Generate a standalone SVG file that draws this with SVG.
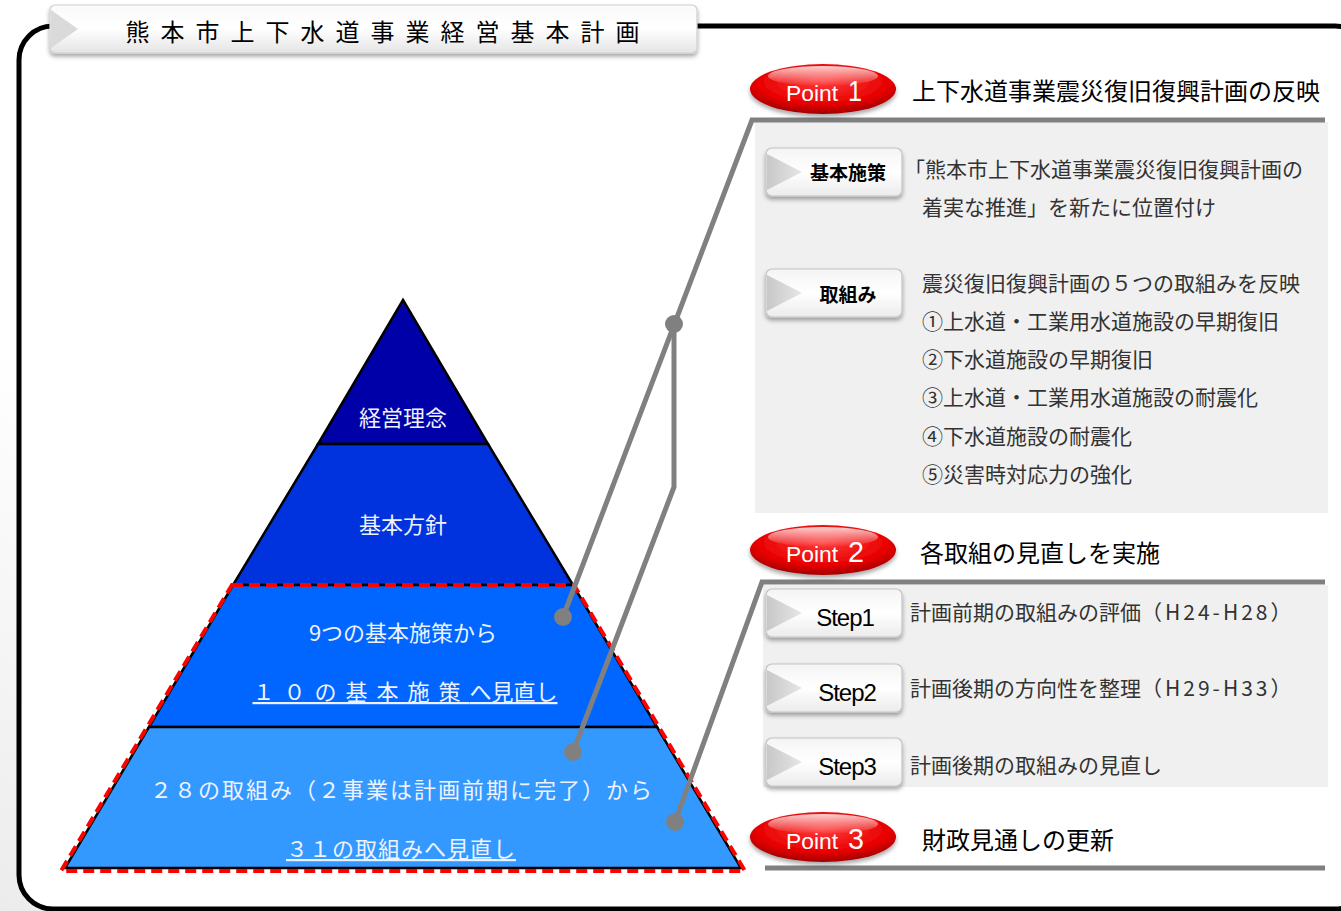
<svg xmlns="http://www.w3.org/2000/svg" width="1341" height="911" viewBox="0 0 1341 911">
<style>
.jp{font-family:"Noto Sans CJK JP","Noto Sans CJK SC",sans-serif}
.tier{stroke:#000;stroke-width:2.5}
.tt{fill:#eef2ff;font-size:22px;text-anchor:middle}
.head{fill:#000;font-size:24px}
.body{fill:#333;font-size:21px}
.btn{fill:url(#btnG);stroke:#c4c4c4;stroke-width:1.2}
.btntri{fill:url(#triG)}
.btnt{fill:#000;font-size:19px;font-weight:bold;text-anchor:middle}
.stept{fill:#000;font-size:24px;font-family:"Liberation Sans",Arial,sans-serif;text-anchor:middle;letter-spacing:-1px}
.conn{stroke:#808080;stroke-width:5;fill:none}
.dot{fill:#808080}
.pt{fill:#fff;font-family:"Liberation Sans",Arial,sans-serif}
</style>
<defs>
<linearGradient id="btnG" x1="0" y1="0" x2="0" y2="1">
<stop offset="0" stop-color="#f4f4f4"/><stop offset="0.5" stop-color="#ffffff"/><stop offset="1" stop-color="#ebebeb"/>
</linearGradient>
<linearGradient id="triG" x1="0" y1="0" x2="1" y2="0">
<stop offset="0" stop-color="#c8c8c8"/><stop offset="1" stop-color="#e6e6e6"/>
</linearGradient>
<linearGradient id="titleG" x1="0" y1="0" x2="0" y2="1">
<stop offset="0" stop-color="#fafafa"/><stop offset="0.5" stop-color="#ffffff"/><stop offset="1" stop-color="#e4e4e4"/>
</linearGradient>
<radialGradient id="redG" cx="0.5" cy="0.35" r="0.65">
<stop offset="0" stop-color="#ff3a3a"/><stop offset="0.7" stop-color="#e80000"/><stop offset="1" stop-color="#a00000"/>
</radialGradient>
<linearGradient id="hiG" x1="0" y1="0" x2="0" y2="1">
<stop offset="0" stop-color="#fff" stop-opacity="0.8"/><stop offset="1" stop-color="#fff" stop-opacity="0"/>
</linearGradient>
<linearGradient id="bgG" x1="0" y1="1" x2="0.3" y2="0.6">
<stop offset="0" stop-color="#ececec"/><stop offset="1" stop-color="#ffffff"/>
</linearGradient>
<filter id="sh" x="-10%" y="-20%" width="120%" height="160%">
<feDropShadow dx="0" dy="3" stdDeviation="2" flood-color="#000" flood-opacity="0.35"/>
</filter>
<g id="button">
<rect class="btn" x="0" y="0" width="136" height="48" rx="6"/>
<polygon class="btntri" points="1,6 36,24 1,42"/>
</g>
</defs>

<rect x="0" y="0" width="1341" height="911" fill="url(#bgG)"/>

<!-- outer frame -->
<rect x="19" y="26" width="1350" height="883" rx="34" fill="#fff" stroke="#000" stroke-width="5"/>

<!-- title -->
<g id="title">
<g filter="url(#sh)">
<rect x="50" y="5" width="647" height="48" rx="5" fill="url(#titleG)" stroke="#cfcfcf" stroke-width="1.2"/>
<polygon points="51,10 78,29 51,48" fill="#dadada"/>
</g>
<text class="jp" x="388" y="41" font-size="24" text-anchor="middle" letter-spacing="11" fill="#000">熊本市上下水道事業経営基本計画</text>
</g>

<!-- pyramid -->
<g id="tier1">
<polygon class="tier" points="403,300 488,444 318,444" fill="#0000a8"/>
<text class="jp tt" x="403" y="426">経営理念</text>
</g>
<g id="tier2">
<polygon class="tier" points="318,444 488,444 573,585 233,585" fill="#0033dd"/>
<text class="jp tt" x="403" y="533">基本方針</text>
</g>
<g id="tier3">
<polygon class="tier" points="233,585 573,585 657,727 149,727" fill="#0066ff"/>
<text class="jp tt" x="403" y="641">9つの基本施策から</text>
<text class="jp tt" x="405" y="700" text-decoration="underline"><tspan letter-spacing="9">１０の基本施策</tspan><tspan>へ見直し</tspan></text>
</g>
<g id="tier4">
<polygon class="tier" points="149,727 657,727 741,868 65,868" fill="#3399ff"/>
<text class="jp tt" x="402" y="798" letter-spacing="2">２８の取組み（２事業は計画前期に完了）から</text>
<text class="jp tt" x="401" y="857" letter-spacing="1" text-decoration="underline">３１の取組みへ見直し</text>
</g>
<polygon id="highlight" points="232,585 574,585 745,871 61,871" fill="none" stroke="#ff0000" stroke-width="4" stroke-dasharray="11 6"/>

<!-- panels -->
<rect x="755" y="122" width="573" height="391" fill="#f0f0f0"/>
<rect x="763" y="585" width="565" height="202" fill="#f0f0f0"/>

<!-- connectors -->
<g id="connectors">
<path class="conn" d="M1325,120 H752 L563,617"/>
<path class="conn" d="M674,323 V487 L573,752"/>
<path class="conn" d="M1325,582 H762 L675,822"/>
<path class="conn" d="M765,868 H1325"/>
<circle class="dot" cx="674" cy="324" r="9"/>
<circle class="dot" cx="563" cy="617" r="9"/>
<circle class="dot" cx="573" cy="752" r="9"/>
<circle class="dot" cx="675" cy="822" r="9"/>
</g>

<!-- Point 1 -->
<g id="point1">
<g filter="url(#sh)"><ellipse cx="823" cy="89" rx="73" ry="25" fill="url(#redG)"/></g>
<ellipse cx="823" cy="76" rx="55" ry="10" fill="url(#hiG)"/>
<text class="pt" x="786" y="101" font-size="22" textLength="52" lengthAdjust="spacingAndGlyphs">Point</text>
<text class="pt" x="848" y="101" font-size="29" textLength="14" lengthAdjust="spacingAndGlyphs">1</text>
<text class="jp head" x="912" y="100">上下水道事業震災復旧復興計画の反映</text>
</g>

<g id="kihonshisaku">
<use href="#button" x="766" y="148" filter="url(#sh)"/>
<text class="jp btnt" x="848" y="180">基本施策</text>
<text class="jp body" x="904" y="177">「熊本市上下水道事業震災復旧復興計画の</text>
<text class="jp body" x="922" y="215">着実な推進」を新たに位置付け</text>
</g>

<g id="torikumi">
<use href="#button" x="766" y="269" filter="url(#sh)"/>
<text class="jp btnt" x="848" y="302">取組み</text>
<text class="jp body" x="922" y="291">震災復旧復興計画の５つの取組みを反映</text>
<text class="jp body" x="922" y="329">①上水道・工業用水道施設の早期復旧</text>
<text class="jp body" x="922" y="367">②下水道施設の早期復旧</text>
<text class="jp body" x="922" y="405">③上水道・工業用水道施設の耐震化</text>
<text class="jp body" x="922" y="444">④下水道施設の耐震化</text>
<text class="jp body" x="922" y="482">⑤災害時対応力の強化</text>
</g>

<!-- Point 2 -->
<g id="point2">
<g filter="url(#sh)"><ellipse cx="823" cy="550" rx="73" ry="25" fill="url(#redG)"/></g>
<ellipse cx="823" cy="537" rx="55" ry="10" fill="url(#hiG)"/>
<text class="pt" x="786" y="562" font-size="22" textLength="52" lengthAdjust="spacingAndGlyphs">Point</text>
<text class="pt" x="848" y="562" font-size="29" textLength="16" lengthAdjust="spacingAndGlyphs">2</text>
<text class="jp head" x="920" y="562">各取組の見直しを実施</text>
</g>

<g id="step1">
<use href="#button" x="766" y="589" filter="url(#sh)"/>
<text class="stept" x="845" y="626">Step1</text>
<text class="jp body" x="910" y="620">計画前期の取組みの評価<tspan letter-spacing="3">（H24-H28）</tspan></text>
</g>
<g id="step2">
<use href="#button" x="766" y="664" filter="url(#sh)"/>
<text class="stept" x="847" y="701">Step2</text>
<text class="jp body" x="910" y="696">計画後期の方向性を整理<tspan letter-spacing="3">（H29-H33）</tspan></text>
</g>
<g id="step3">
<use href="#button" x="766" y="738" filter="url(#sh)"/>
<text class="stept" x="847" y="775">Step3</text>
<text class="jp body" x="910" y="773">計画後期の取組みの見直し</text>
</g>

<!-- Point 3 -->
<g id="point3">
<g filter="url(#sh)"><ellipse cx="823" cy="837" rx="73" ry="25" fill="url(#redG)"/></g>
<ellipse cx="823" cy="824" rx="55" ry="10" fill="url(#hiG)"/>
<text class="pt" x="786" y="849" font-size="22" textLength="52" lengthAdjust="spacingAndGlyphs">Point</text>
<text class="pt" x="848" y="849" font-size="29" textLength="16" lengthAdjust="spacingAndGlyphs">3</text>
<text class="jp head" x="922" y="849">財政見通しの更新</text>
</g>
</svg>
